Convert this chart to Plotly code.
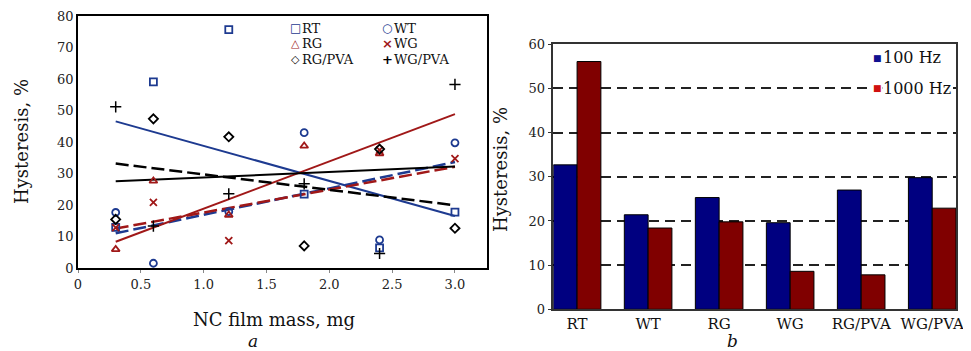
import plotly.graph_objects as go

# ---------------- data: panel a ----------------
mass = [0.3, 0.6, 1.2, 1.8, 2.4, 3.0]
RT = [13.0, 59.1, 75.7, 23.5, 6.5, 17.8]
WT = [17.7, 1.6, 18.0, 43.0, 9.0, 39.8]
RG = [6.0, 27.7, 16.9, 38.8, 36.4, None]
WG = [12.9, 20.9, 8.8, None, 37.5, 34.8]
RG_PVA = [15.5, 47.4, 41.7, 7.1, 37.8, 12.7]
WG_PVA = [51.2, 13.4, 23.6, 26.8, 4.7, 58.3]

trend_x = [0.3, 3.0]
trend_RT = [46.6, 16.6]
trend_WT = [11.1, 33.7]
trend_RG = [8.4, 48.9]
trend_WG = [12.6, 32.2]
trend_RG_PVA = [33.2, 20.0]
trend_WG_PVA = [27.6, 32.3]

x_tickvals = [0, 0.5, 1.0, 1.5, 2.0, 2.5, 3.0]
x_ticktext = ["0", "0.5", "1.0", "1.5", "2.0", "2.5", "3.0"]

# ---------------- data: panel b ----------------
samples = ["RT", "WT", "RG", "WG", "RG/PVA", "WG/PVA"]
hz100 = [32.7, 21.4, 25.3, 19.6, 27.0, 29.8]
hz1000 = [56.1, 18.4, 19.8, 8.6, 7.8, 22.9]

FONT = "DejaVu Serif"
SYMFONT = "DejaVu Sans"
BLUE = "#1d3a90"
RED = "#a01818"
W, H = 971, 351
OFF = 8  # the page body has an 8 px margin; positions below are screen pixels

fig = go.Figure()

# trend lines (panel a)
for ys, col, dash, wd in [
    (trend_RT, BLUE, "solid", 2),
    (trend_WT, BLUE, "13px,5px", 2.5),
    (trend_RG, RED, "solid", 2),
    (trend_WG, RED, "13px,5px", 2.5),
    (trend_RG_PVA, "black", "13px,5px", 2.5),
    (trend_WG_PVA, "black", "solid", 2),
]:
    fig.add_trace(go.Scatter(x=trend_x, y=ys, mode="lines", showlegend=False,
                             line=dict(color=col, width=wd, dash=dash),
                             xaxis="x", yaxis="y", hoverinfo="skip"))

# scatter markers (panel a)
series = [
    ("RT", RT, "square-open", BLUE, 7, 1.8),
    ("WT", WT, "circle-open", BLUE, 7, 1.8),
    ("RG", RG, "triangle-up-open", RED, 7, 1.8),
    ("WG", WG, "x-thin-open", RED, 7, 1.8),
    ("RG/PVA", RG_PVA, "diamond-open", "black", 7, 1.8),
    ("WG/PVA", WG_PVA, "cross-thin-open", "black", 8, 1.5),
]
for name, ys, sym, col, sz, lw in series:
    fig.add_trace(go.Scatter(x=mass, y=ys, mode="markers", name=name, showlegend=False,
                             marker=dict(symbol=sym, size=sz, color=col,
                                         line=dict(color=col, width=lw)),
                             xaxis="x", yaxis="y"))

# bars (panel b)
fig.add_trace(go.Bar(x=samples, y=hz100, name="100 Hz", showlegend=False,
                     marker=dict(color="#000080", line=dict(color="black", width=1)),
                     xaxis="x2", yaxis="y2"))
fig.add_trace(go.Bar(x=samples, y=hz1000, name="1000 Hz", showlegend=False,
                     marker=dict(color="#800000", line=dict(color="black", width=1)),
                     xaxis="x2", yaxis="y2"))


def px_x(p):
    return (p - OFF) / W


def px_y(p):
    return 1 - (p - OFF) / H


tickfont = dict(family=FONT, size=13, color="#222")


def ann(text, x, y, size, xanchor="center", angle=0, family=FONT, color="#111", bg=None):
    d = dict(text=text, x=px_x(x), y=px_y(y), xref="paper", yref="paper",
             xanchor=xanchor, yanchor="middle", textangle=angle, showarrow=False,
             font=dict(family=family, size=size, color=color),
             borderpad=0)
    if bg:
        d["bgcolor"] = bg
    return d


annotations = [
    ann("Hysteresis, %", 21, 142, 18, angle=-90),
    ann("NC film mass, mg", 274, 319, 18),
    ann("<i>a</i>", 253, 341, 17),
    ann("Hysteresis, %", 500, 170, 18, angle=-90),
    ann("<i>b</i>", 732, 341, 17),
]

# legend of panel a (two columns, row-major like the original)
legend_a = [
    ("□", BLUE, "RT", 295, 28.5, 12),
    ("○", BLUE, "WT", 387, 28.5, 12),
    ("△", RED, "RG", 295, 44, 11),
    ("×", RED, "WG", 387, 44, 13),
    ("◇", "black", "RG/PVA", 295, 59.5, 11),
    ("+", "black", "WG/PVA", 387, 59.5, 13),
]
for sym, col, label, mx, my, ssz in legend_a:
    annotations.append(ann("<b>" + sym + "</b>", mx, my, ssz, family=SYMFONT, color=col))
    annotations.append(ann(label, mx + 6, my, 13, xanchor="left"))

# legend of panel b
legend_b = [("■", "#101090", "100 Hz", 877, 58), ("■", "#d01010", "1000 Hz", 877, 88)]
for sym, col, label, mx, my in legend_b:
    annotations.append(ann(label, mx + 5, my, 16, xanchor="left", bg="white"))
    annotations.append(ann(sym, mx, my, 9, family=SYMFONT, color=col, bg="white"))

fig.update_layout(
    width=W, height=H,
    margin=dict(l=0, r=0, t=0, b=0, autoexpand=False),
    paper_bgcolor="white", plot_bgcolor="white",
    font=dict(family=FONT, color="#111"),
    showlegend=False,
    barmode="group", bargap=0.33, bargroupgap=0,
    xaxis=dict(domain=[px_x(78), px_x(487)], range=[0, 3.255], automargin=False,
               tickvals=x_tickvals, ticktext=x_ticktext, tickfont=tickfont,
               showgrid=False, zeroline=False, showline=True, mirror=True,
               linecolor="black", linewidth=1.5, ticks="outside", ticklen=3,
               tickcolor="#888", anchor="y"),
    yaxis=dict(domain=[px_y(268.3), px_y(16)], range=[0, 80], dtick=10, automargin=False,
               tickfont=tickfont, showgrid=False, zeroline=False, showline=True,
               mirror=True, linecolor="black", linewidth=1.5, ticks="",
               anchor="x"),
    xaxis2=dict(domain=[px_x(553.3), px_x(956)], range=[-0.335, 5.335], automargin=False,
                tickangle=0, tickfont=dict(family=FONT, size=15, color="#111"),
                showgrid=False, zeroline=False, showline=True, mirror=True,
                linecolor="#333", linewidth=1.5, ticks="", anchor="y2"),
    yaxis2=dict(domain=[px_y(309.3), px_y(44.3)], range=[0, 60], dtick=10, automargin=False,
                tickfont=tickfont, showgrid=True, gridcolor="#222", gridwidth=1.5,
                griddash="10px,6px", zeroline=False, showline=True, mirror=True,
                linecolor="#333", linewidth=1.5, ticks="outside", ticklen=4,
                tickcolor="#333", anchor="x2"),
    annotations=annotations,
)

fig.write_html("out.html")
